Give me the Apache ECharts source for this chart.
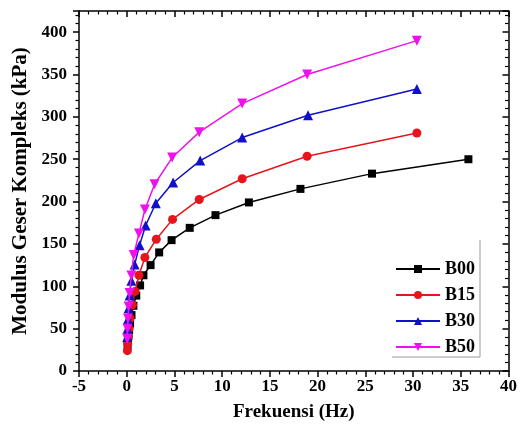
<!DOCTYPE html>
<html>
<head>
<meta charset="utf-8">
<script src="https://cdn.jsdelivr.net/npm/echarts@6/dist/echarts.min.js"></script>
<style>html,body{margin:0;padding:0;background:#fff}#c{width:520px;height:439px}</style>
</head>
<body>
<div id="c"></div>
<script>
var seriesNames = ['B00', 'B15', 'B30', 'B50'];
var b00Freq = [35.8, 25.7, 18.2, 12.8, 9.3, 6.6, 4.7, 3.4, 2.5, 1.75, 1.4, 1.0, 0.7, 0.5, 0.35, 0.25, 0.18, 0.12, 0.09];
var b00Vals = [250, 233, 215, 199, 184, 169, 154.5, 140, 125, 113, 101, 89, 77, 66, 56, 48, 41, 35, 30];
var b15Freq = [30.4, 18.9, 12.1, 7.6, 4.8, 3.1, 1.9, 1.28, 0.87, 0.59, 0.35, 0.25, 0.17, 0.1, 0.07];
var b15Vals = [281, 253.5, 227, 202.5, 179, 155.6, 134, 113, 94, 78, 62, 50, 41, 32, 24];
var b30Freq = [30.4, 19.0, 12.1, 7.7, 4.86, 3.05, 1.98, 1.35, 0.83, 0.49, 0.3, 0.2, 0.13, 0.08, 0.05];
var b30Vals = [333, 302, 275.6, 248.4, 222.5, 198, 171.8, 148.6, 125.8, 106.5, 89, 74, 61, 50, 40];
var b50Freq = [30.4, 18.9, 12.1, 7.6, 4.76, 2.92, 1.91, 1.28, 0.73, 0.49, 0.3, 0.2, 0.13, 0.08, 0.05];
var b50Vals = [390, 350, 315.7, 282, 252, 220.5, 190.7, 162.4, 136.8, 112.8, 92, 76, 62, 50, 38];
var xTicks = [-5, 0, 5, 10, 15, 20, 25, 30, 35, 40];
var yTicks = [0, 50, 100, 150, 200, 250, 300, 350, 400];

var colors = ['#000000', '#e8141c', '#1010c8', '#ee11ee'];
var symbols = ['rect', 'circle', 'triangle', 'triangle'];
var symbolSizes = [8, 9, 10, 10];
var rotates = [0, 0, 0, 180];
var freqs = [b00Freq, b15Freq, b30Freq, b50Freq];
var vals = [b00Vals, b15Vals, b30Vals, b50Vals];

function pairs(f, v) { return f.map(function (x, i) { return [x, v[i]]; }); }

var font = 'Liberation Serif';
var chart = echarts.init(document.getElementById('c'));
var axisLineStyle = { color: '#000', width: 1.5 };
var series = seriesNames.map(function (n, i) {
  return {
    name: n, type: 'line', data: pairs(freqs[i], vals[i]),
    symbol: symbols[i], symbolSize: symbolSizes[i], symbolRotate: rotates[i],
    itemStyle: { color: colors[i] }, lineStyle: { color: colors[i], width: 1.5 },
    showAllSymbol: true, z: 3 + i
  };
});
chart.setOption({
  animation: false,
  grid: { left: 79, right: 9, top: 11, bottom: 68 },
  legend: {
    data: seriesNames.map(function (n, i) { return { name: n, itemStyle: { color: colors[i] } }; }),
    orient: 'vertical', right: 40, top: 255, itemWidth: 44, itemHeight: 10, itemGap: 8,
    textStyle: { fontFamily: font, fontWeight: 'bold', fontSize: 18, color: '#000' }
  },
  xAxis: [{
    type: 'value', min: xTicks[0], max: xTicks[xTicks.length - 1], interval: 5,
    name: 'Frekuensi (Hz)', nameLocation: 'middle', nameGap: 32,
    nameTextStyle: { fontFamily: font, fontWeight: 'bold', fontSize: 19, color: '#000' },
    axisLine: { show: true, onZero: false, lineStyle: axisLineStyle },
    axisTick: { show: true, inside: false, length: 6, lineStyle: axisLineStyle },
    minorTick: { show: true, splitNumber: 5, length: 3.5, lineStyle: { color: '#000', width: 1.2 } },
    axisLabel: { fontFamily: font, fontWeight: 'bold', fontSize: 17, color: '#000', margin: 7 },
    splitLine: { show: false }
  }, {
    type: 'value', position: 'top', min: xTicks[0], max: xTicks[xTicks.length - 1], interval: 5,
    axisLine: { show: true, onZero: false, lineStyle: axisLineStyle },
    axisTick: { show: true, inside: true, length: 6, lineStyle: axisLineStyle },
    minorTick: { show: true, splitNumber: 5, length: 3.5, lineStyle: { color: '#000', width: 1.2 } },
    axisLabel: { show: false }, splitLine: { show: false }
  }],
  yAxis: [{
    type: 'value', min: 0, max: 425, interval: 50,
    name: 'Modulus Geser Kompleks (kPa)', nameLocation: 'middle', nameGap: 46,
    nameTextStyle: { fontFamily: font, fontWeight: 'bold', fontSize: 21, color: '#000' },
    axisLine: { show: true, onZero: false, lineStyle: axisLineStyle },
    axisTick: { show: true, inside: false, length: 6, lineStyle: axisLineStyle },
    minorTick: { show: true, splitNumber: 5, length: 3.5, lineStyle: { color: '#000', width: 1.2 } },
    axisLabel: { fontFamily: font, fontWeight: 'bold', fontSize: 17, color: '#000', margin: 12, showMaxLabel: false },
    splitLine: { show: false }
  }, {
    type: 'value', position: 'right', min: 0, max: 425, interval: 50,
    axisLine: { show: true, onZero: false, lineStyle: axisLineStyle },
    axisTick: { show: true, inside: true, length: 6, lineStyle: axisLineStyle },
    minorTick: { show: true, splitNumber: 5, length: 3.5, lineStyle: { color: '#000', width: 1.2 } },
    axisLabel: { show: false }, splitLine: { show: false }
  }],
  graphic: [{
    type: 'polyline', shape: { points: [[480, 240], [480, 357], [392, 357]] },
    style: { stroke: '#999', lineWidth: 1, fill: null }, silent: true
  }],
  series: series
});
</script>
</body>
</html>
